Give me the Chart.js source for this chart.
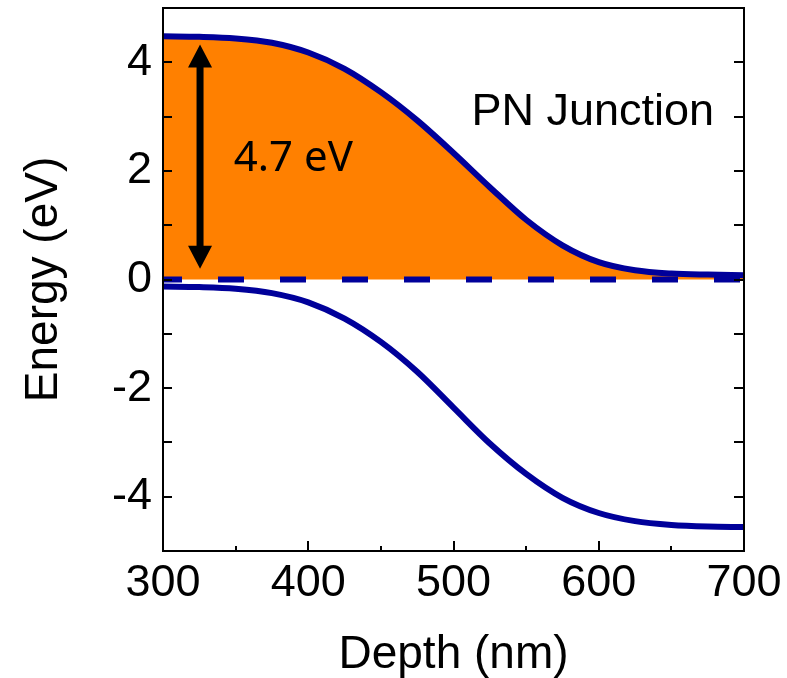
<!DOCTYPE html>
<html>
<head>
<meta charset="utf-8">
<title>PN Junction</title>
<script src="https://cdn.jsdelivr.net/npm/chart.js@4.4.1/dist/chart.umd.min.js"></script>
<style>
  html, body { margin: 0; padding: 0; background: #fff; }
  canvas { display: block; }
</style>
</head>
<body>
<canvas id="chart" width="787" height="678" aria-label="PN junction band diagram" role="img"></canvas>
<script>
// values
const depth = [300, 325, 350, 375, 400, 425, 450, 475, 500, 525, 550, 575, 600, 625, 650, 675, 700];
const conductionBand = [4.48, 4.47, 4.44, 4.36, 4.18, 3.88, 3.45, 2.93, 2.33, 1.70, 1.10, 0.63, 0.32, 0.17, 0.11, 0.09, 0.08];
const valenceBand = [-0.13, -0.14, -0.17, -0.25, -0.42, -0.72, -1.15, -1.70, -2.36, -3.02, -3.58, -4.02, -4.30, -4.45, -4.52, -4.55, -4.56];
const fermiDepth = [300, 700];
const fermiLevel = [0, 0];

const xTickValues = [300, 400, 500, 600, 700];
const xMinorTicks = [350, 450, 550, 650];
const yTickValues = [-4, -2, 0, 2, 4];
const yTickMarks = [-4, -3, -2, -1, 0, 1, 2, 3, 4];

const BLUE = '#00009a';
const ORANGE = '#ff8000';
const FONT = '"Liberation Sans", Arial, sans-serif';

// annotation anchors, in data units
const gapArrow = { x: 325.5, from: 0.2, to: 4.33 };
const notes = [
    { text: '4.7 eV', x: 389.7, y: 2.22, font: '42px "Noto Sans", "DejaVu Sans", sans-serif' },
    { text: 'PN Junction', x: 595.9, y: 3.08, font: '45px ' + FONT }
];

const toPoints = (xs, ys) => xs.map((x, i) => ({ x: x, y: ys[i] }));

// frame + inward ticks, arrow and text labels
const decorations = {
    id: 'decorations',
    afterDatasetsDraw(chart) {
        const { ctx, chartArea: a, scales: { x, y } } = chart;
        ctx.save();
        ctx.strokeStyle = '#000';
        ctx.lineWidth = 2;
        ctx.strokeRect(a.left, a.top, a.right - a.left, a.bottom - a.top);

        ctx.beginPath();
        yTickMarks.forEach(v => {
            const py = Math.round(y.getPixelForValue(v));
            ctx.moveTo(a.left, py);
            ctx.lineTo(a.left + 9, py);
            ctx.moveTo(a.right, py);
            ctx.lineTo(a.right - 10, py);
        });
        xTickValues.forEach(v => {
            const px = Math.round(x.getPixelForValue(v));
            ctx.moveTo(px, a.bottom);
            ctx.lineTo(px, a.bottom - 10);
        });
        xMinorTicks.forEach(v => {
            const px = Math.round(x.getPixelForValue(v));
            ctx.moveTo(px, a.bottom);
            ctx.lineTo(px, a.bottom - 5);
        });
        ctx.stroke();

        // double headed arrow for the band gap
        const ax = x.getPixelForValue(gapArrow.x);
        const yTop = y.getPixelForValue(gapArrow.to);
        const yBot = y.getPixelForValue(gapArrow.from);
        const headH = 23, headW = 12;
        ctx.fillStyle = '#000';
        ctx.fillRect(ax - 3.5, yTop + headH - 1, 7, (yBot - yTop) - 2 * headH + 2);
        ctx.beginPath();
        ctx.moveTo(ax, yTop);
        ctx.lineTo(ax + headW, yTop + headH);
        ctx.lineTo(ax - headW, yTop + headH);
        ctx.closePath();
        ctx.moveTo(ax, yBot);
        ctx.lineTo(ax + headW, yBot - headH);
        ctx.lineTo(ax - headW, yBot - headH);
        ctx.closePath();
        ctx.fill();

        ctx.textAlign = 'center';
        ctx.textBaseline = 'middle';
        notes.forEach(n => {
            ctx.font = n.font;
            ctx.fillText(n.text, x.getPixelForValue(n.x), y.getPixelForValue(n.y));
        });
        ctx.restore();
    }
};

const ctx = document.getElementById('chart').getContext('2d');
new Chart(ctx, {
    type: 'line',
    data: {
        datasets: [
            {
                label: 'Fermi level',
                data: toPoints(fermiDepth, fermiLevel),
                borderColor: BLUE,
                borderWidth: 6,
                borderDash: [26, 36],
                borderDashOffset: 7,
                borderCapStyle: 'butt',
                pointRadius: 0,
                fill: false,
                clip: 0,
                order: 0
            },
            {
                label: 'Valence band',
                data: toPoints(depth, valenceBand),
                borderColor: BLUE,
                borderWidth: 6,
                cubicInterpolationMode: 'monotone',
                pointRadius: 0,
                fill: false,
                clip: 0,
                order: 1
            },
            {
                label: 'Conduction band',
                data: toPoints(depth, conductionBand),
                borderColor: BLUE,
                borderWidth: 6,
                backgroundColor: ORANGE,
                cubicInterpolationMode: 'monotone',
                pointRadius: 0,
                fill: { target: 'origin', above: ORANGE },
                clip: 0,
                order: 2
            }
        ]
    },
    options: {
        responsive: false,
        animation: false,
        layout: { padding: { top: 8, right: 43, left: 0, bottom: 0 } },
        plugins: {
            legend: { display: false },
            tooltip: { enabled: false }
        },
        scales: {
            x: {
                type: 'linear',
                min: 300,
                max: 700,
                afterBuildTicks: s => { s.ticks = xTickValues.map(v => ({ value: v })); },
                afterFit: s => { s.height = 127; s.paddingLeft = 0; s.paddingRight = 0; },
                grid: { display: false, drawTicks: false },
                border: { display: false },
                ticks: {
                    color: '#000',
                    padding: 6,
                    maxRotation: 0,
                    autoSkip: false,
                    font: { family: FONT, size: 45 }
                },
                title: {
                    display: true,
                    text: 'Depth (nm)',
                    color: '#000',
                    font: { family: FONT, size: 46, lineHeight: 1 },
                    padding: { top: 0, bottom: 0 }
                }
            },
            y: {
                type: 'linear',
                min: -5,
                max: 5,
                afterBuildTicks: s => { s.ticks = yTickValues.map(v => ({ value: v })); },
                afterFit: s => { s.width = 163; s.paddingTop = 0; s.paddingBottom = 0; },
                grid: { display: false, drawTicks: false },
                border: { display: false },
                ticks: {
                    color: '#000',
                    padding: 11,
                    autoSkip: false,
                    font: { family: FONT, size: 45 }
                },
                title: {
                    display: true,
                    text: 'Energy (eV)',
                    color: '#000',
                    font: { family: FONT, size: 46 },
                    padding: { top: 17, bottom: 0 }
                }
            }
        }
    },
    plugins: [decorations]
});
</script>
</body>
</html>
